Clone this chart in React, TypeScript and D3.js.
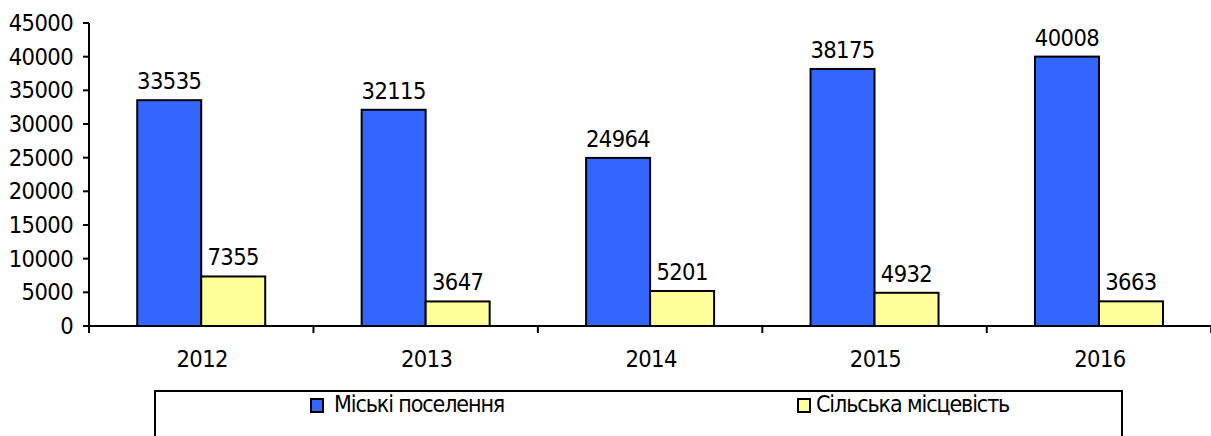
import React from "react";
import * as d3 from "d3";

const categories = ["2012", "2013", "2014", "2015", "2016"];
const seriesNames = ["Міські поселення", "Сільська місцевість"];
const urbanValues = [33535, 32115, 24964, 38175, 40008];
const ruralValues = [7355, 3647, 5201, 4932, 3663];
const yTicks = [0, 5000, 10000, 15000, 20000, 25000, 30000, 35000, 40000, 45000];
const colors = ["#3366FF", "#FFFF99"];

const W = 1211;
const H = 436;
const left = 89;
const right = 1211.2;
const top = 23;
const bottom = 326;
const numFont = "'DejaVu Sans', sans-serif";

export default function App() {
  const x = d3.scaleBand<string>().domain(categories).range([left, right]).padding(0);
  const y = d3.scaleLinear().domain([0, 45000]).range([bottom, top]);
  const barW = 64;
  const series = [urbanValues, ruralValues];
  const fs = 23.5;

  return (
    <svg width={W} height={H} style={{ position: "absolute", left: 0, top: 0, fontStretch: "condensed" }} fontFamily={numFont}>
      <rect x={0} y={0} width={W} height={H} fill="#fff" />
      {categories.map((c, i) => {
        const cx = (x(c) as number) + x.bandwidth() / 2;
        return (
          <g key={c}>
            {series.map((vals, s) => {
              const bx = cx - barW + s * barW;
              const by = y(vals[i]);
              return (
                <g key={s}>
                  <rect x={bx} y={by} width={barW} height={bottom - by} fill={colors[s]} stroke="#000" strokeWidth={2} />
                  <text x={bx + barW / 2} y={by - 11} textAnchor="middle" fontSize={fs} letterSpacing={-0.6} fill="#000">
                    {vals[i]}
                  </text>
                </g>
              );
            })}
            <text x={cx + 1} y={367} textAnchor="middle" fontSize={fs} letterSpacing={-0.6} fill="#000">
              {c}
            </text>
          </g>
        );
      })}
      {/* y axis */}
      <line x1={left} y1={top} x2={left} y2={bottom} stroke="#000" strokeWidth={2} />
      {yTicks.map((t) => (
        <g key={t}>
          <line x1={left - 6} y1={y(t)} x2={left} y2={y(t)} stroke="#000" strokeWidth={2} />
          <text x={73} y={y(t) + 8} textAnchor="end" fontSize={fs} letterSpacing={-0.6} fill="#000">
            {t}
          </text>
        </g>
      ))}
      {/* x axis */}
      <line x1={left - 6} y1={bottom} x2={W} y2={bottom} stroke="#000" strokeWidth={2} />
      {categories.map((c) => (
        <line key={c} x1={x(c)} y1={bottom} x2={x(c)} y2={bottom + 7} stroke="#000" strokeWidth={2} />
      ))}
      <line x1={right} y1={bottom} x2={right} y2={bottom + 7} stroke="#000" strokeWidth={2} />
      {/* legend */}
      <rect x={155} y={391} width={967} height={70} fill="#fff" stroke="#000" strokeWidth={2} />
      {seriesNames.map((n, s) => {
        const mx = s === 0 ? 310 : 797;
        return (
          <g key={n}>
            <rect x={mx + 1} y={399} width={12} height={13} fill={colors[s]} stroke="#000" strokeWidth={2} />
            <text x={mx + (s === 0 ? 24 : 19)} y={412} fontSize={23} letterSpacing={-1.1} fill="#000">
              {n}
            </text>
          </g>
        );
      })}
    </svg>
  );
}
